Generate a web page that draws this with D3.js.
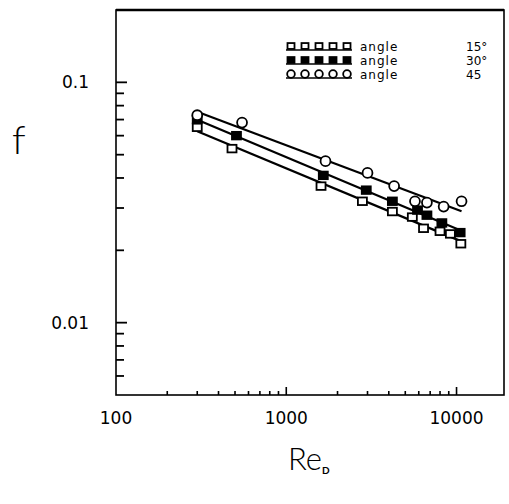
<!DOCTYPE html>
<html>
<head>
<meta charset="utf-8">
<script src="https://cdn.jsdelivr.net/npm/d3@7"></script>
<style>
  body { margin: 0; background: #fff; }
  svg { display: block; }
  text { font-family: "DejaVu Sans", Lato, sans-serif; fill: #000; }
  .title { font-family: Lato, "DejaVu Sans", sans-serif; }
</style>
</head>
<body>
<div id="chart"></div>
<script>
// angle 15 (open squares)
const re15 = [300, 480, 1600, 2800, 4200, 5500, 6400, 8000, 9200, 10600];
const f15 = [0.065, 0.053, 0.037, 0.032, 0.029, 0.0275, 0.0247, 0.024, 0.0234, 0.0213];
// angle 30 (filled squares)
const re30 = [300, 510, 1650, 2950, 4200, 5900, 6700, 8200, 10500];
const f30 = [0.070, 0.060, 0.041, 0.0356, 0.032, 0.0294, 0.028, 0.026, 0.0237];
// angle 45 (open circles)
const re45 = [300, 550, 1700, 3000, 4300, 5700, 6700, 8400, 10700];
const f45 = [0.073, 0.068, 0.047, 0.042, 0.037, 0.032, 0.0316, 0.0304, 0.032];

const legendLabels = ['angle', 'angle', 'angle'];
const legendValues = ['15°', '30°', '45'];
const xTickLabels = [100, 1000, 10000];
const yTickLabels = [0.1, 0.01];

let width = 509, height = 504;
let plotLeft = 116, plotRight = 504, plotTop = 10, plotBottom = 395;

let svg = d3.select('#chart').append('svg')
  .attr('width', width).attr('height', height);

let x = d3.scaleLog().domain([100, 19000]).range([plotLeft, plotRight]);
let y = d3.scaleLog().domain([0.005, 0.2]).range([plotBottom, plotTop]);

/// frame
svg.append('rect')
  .attr('x', plotLeft).attr('y', plotTop)
  .attr('width', plotRight - plotLeft).attr('height', plotBottom - plotTop)
  .attr('fill', 'none').attr('stroke', '#000').attr('stroke-width', 1.6);
svg.append('line')
  .attr('x1', plotLeft).attr('x2', plotRight).attr('y1', plotTop).attr('y2', plotTop)
  .attr('stroke', '#000').attr('stroke-width', 2.5);

/// x ticks (pointing inside)
let xTicks = [];
[100, 1000].forEach(function(dec) {
  for (let k = 2; k <= 10; k++) xTicks.push(dec * k);
});
svg.selectAll('.xtick').data(xTicks).enter().append('line')
  .attr('x1', function(d) { return x(d); })
  .attr('x2', function(d) { return x(d); })
  .attr('y1', plotBottom)
  .attr('y2', function(d) { return xTickLabels.indexOf(d) >= 0 ? plotBottom - 8 : plotBottom - 4; })
  .attr('stroke', '#000').attr('stroke-width', 1.6);

svg.selectAll('.xlab').data(xTickLabels).enter().append('text')
  .attr('x', function(d) { return x(d); })
  .attr('y', 424)
  .attr('text-anchor', 'middle')
  .attr('font-size', 17)
  .text(function(d) { return d; });

/// y ticks (pointing inside)
let yTicks = [];
for (let k = 6; k <= 10; k++) yTicks.push(+(k * 0.001).toFixed(3));
for (let k = 2; k <= 10; k++) yTicks.push(+(k * 0.01).toFixed(2));
svg.selectAll('.ytick').data(yTicks).enter().append('line')
  .attr('x1', plotLeft)
  .attr('x2', function(d) { return yTickLabels.indexOf(d) >= 0 ? plotLeft + 11 : plotLeft + 8; })
  .attr('y1', function(d) { return y(d); })
  .attr('y2', function(d) { return y(d); })
  .attr('stroke', '#000').attr('stroke-width', 1.8);

svg.selectAll('.ylab').data(yTickLabels).enter().append('text')
  .attr('x', 89)
  .attr('y', function(d) { return y(d) + 6; })
  .attr('text-anchor', 'end')
  .attr('font-size', 17)
  .text(function(d) { return d; });

/// axis titles
svg.append('text').attr('class', 'title').attr('x', 12).attr('y', 154)
  .attr('font-size', 40).attr('font-weight', 300).text('f');
let reLabel = svg.append('text').attr('class', 'title').attr('x', 288).attr('y', 470)
  .attr('font-size', 31).attr('font-weight', 300);
reLabel.append('tspan').text('Re');
reLabel.append('tspan').attr('font-size', 10).attr('font-weight', 'bold')
  .attr('dy', 4).text('D');

/// power-law fit in log-log space
function fitLine(re, f) {
  let lx = re.map(Math.log10), ly = f.map(Math.log10);
  let mx = d3.mean(lx), my = d3.mean(ly);
  let b = d3.sum(lx, function(v, i) { return (v - mx) * (ly[i] - my); }) /
          d3.sum(lx, function(v) { return (v - mx) * (v - mx); });
  let a = my - b * mx;
  let ends = d3.extent(re);
  return ends.map(function(r) { return [r, Math.pow(10, a + b * Math.log10(r))]; });
}

let series = [
  { re: re15, f: f15, kind: 'square' },
  { re: re30, f: f30, kind: 'filled' },
  { re: re45, f: f45, kind: 'circle' }
];

let line = d3.line()
  .x(function(d) { return x(d[0]); })
  .y(function(d) { return y(d[1]); });

series.forEach(function(s) {
  svg.append('path')
    .attr('d', line(fitLine(s.re, s.f)))
    .attr('fill', 'none').attr('stroke', '#000').attr('stroke-width', 2.2);
});

function drawMarker(g, kind, cx, cy, size) {
  if (kind === 'circle') {
    g.append('circle').attr('cx', cx).attr('cy', cy).attr('r', size * 0.55)
      .attr('fill', '#fff').attr('stroke', '#000').attr('stroke-width', 1.8);
  } else {
    g.append('rect')
      .attr('x', cx - size / 2).attr('y', cy - size * 0.42)
      .attr('width', size).attr('height', size * 0.84)
      .attr('fill', kind === 'filled' ? '#000' : '#fff')
      .attr('stroke', '#000').attr('stroke-width', 1.8);
  }
}

let marks = svg.append('g');
series.forEach(function(s) {
  s.re.forEach(function(r, i) {
    drawMarker(marks, s.kind, x(r), y(s.f[i]), 9);
  });
});

/// legend
let legend = svg.append('g');
let legendRows = [47, 61, 75];
series.forEach(function(s, i) {
  let ly = legendRows[i];
  for (let k = 0; k < 5; k++) {
    drawMarker(legend, s.kind, 291 + k * 14, ly - 1, 7);
  }
  legend.append('line')
    .attr('x1', 286).attr('x2', 352)
    .attr('y1', ly + 3).attr('y2', ly + 3)
    .attr('stroke', '#000').attr('stroke-width', 1.6);
  legend.append('text').attr('x', 360).attr('y', ly + 4)
    .attr('font-size', 12).attr('letter-spacing', 1).text(legendLabels[i]);
  legend.append('text').attr('x', 466).attr('y', ly + 4)
    .attr('font-size', 12).text(legendValues[i]);
});
</script>
</body>
</html>
